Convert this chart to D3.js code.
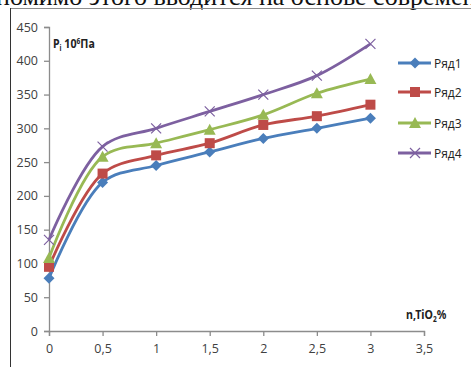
<!DOCTYPE html>
<html>
<head>
<meta charset="utf-8">
<script src="https://cdn.jsdelivr.net/npm/d3@7"></script>
<style>
  body { margin: 0; background: #fff; }
  text { font-family: "Noto Sans", "Open Sans", sans-serif; }
</style>
</head>
<body>
<script>
var xValues = [0, 0.5, 1, 1.5, 2, 2.5, 3];
var ryad1 = [78, 220, 245, 265, 285, 300, 315];
var ryad2 = [95, 233, 260, 278, 305, 318, 335];
var ryad3 = [108, 258, 278, 298, 320, 352, 373];
var ryad4 = [135, 273, 300, 325, 350, 378, 425];
var seriesNames = ["Ряд1", "Ряд2", "Ряд3", "Ряд4"];
var xTicks = [0, 0.5, 1, 1.5, 2, 2.5, 3, 3.5];
var yTicks = [0, 50, 100, 150, 200, 250, 300, 350, 400, 450];

var width = 471, height = 367;
var colors = ["#4a7ebb", "#be4b48", "#98b954", "#7d60a0"];
var shapes = ["diamond", "square", "triangle", "cross"];

var svg = d3.select("body").append("svg")
    .attr("width", width)
    .attr("height", height);

// cut off line of the page text above the chart
svg.append("text")
    .attr("x", -4)
    .attr("y", 5)
    .style("font-family", "'Liberation Serif', serif")
    .style("font-size", "26px")
    .attr("fill", "#111")
    .text("помимо этого вводится на основе современ");

// frame
svg.append("line").attr("x1", 10).attr("x2", width).attr("y1", 8.5).attr("y2", 8.5)
    .attr("stroke", "#8c8c8c");
svg.append("line").attr("x1", 10.5).attr("x2", 10.5).attr("y1", 8).attr("y2", height)
    .attr("stroke", "#333");

var x = d3.scaleLinear().domain([0, 3.5]).range([49, 424]);
var y = d3.scaleLinear().domain([0, 450]).range([331, 27]);

var fmt = function(d) { return String(d).replace(".", ","); };

var xAxis = svg.append("g")
    .attr("transform", "translate(0," + y(0) + ")")
    .call(d3.axisBottom(x).tickValues(xTicks).tickFormat(fmt).tickSize(5).tickPadding(6));
var yAxis = svg.append("g")
    .attr("transform", "translate(" + x(0) + ",0)")
    .call(d3.axisLeft(y).tickValues(yTicks).tickSize(5).tickPadding(6));

[xAxis, yAxis].forEach(function(a) {
  a.select(".domain").attr("stroke", "#8c8c8c").attr("stroke-width", 1.3);
  a.selectAll(".tick line").attr("stroke", "#8c8c8c").attr("stroke-width", 1.3);
  a.selectAll(".tick text").attr("fill", "#404040").style("font-size", "12.5px")
    .style("font-family", "'Open Sans', sans-serif");
});
xAxis.selectAll(".tick text").attr("dy", "0.9em");

// axis titles
var yt = svg.append("text").attr("x", 53).attr("y", 48)
    .style("font-size", "13px").style("font-weight", "bold").attr("fill", "#222")
    .attr("transform", "translate(53,48) scale(0.82,1) translate(-53,-48)");
yt.append("tspan").text("P");
yt.append("tspan").attr("dy", 3).style("font-size", "8px").text("i");
yt.append("tspan").attr("dy", -3).text(" 10");
yt.append("tspan").attr("dy", -4).style("font-size", "8px").text("6");
yt.append("tspan").attr("dy", 4).text("Па");

var xt = svg.append("text").attr("x", 406).attr("y", 319)
    .style("font-size", "13px").style("font-weight", "bold").attr("fill", "#222")
    .attr("transform", "translate(406,319) scale(0.82,1) translate(-406,-319)");
xt.append("tspan").text("n,TiO");
xt.append("tspan").attr("dy", 3).style("font-size", "8px").text("2");
xt.append("tspan").attr("dy", -3).text("%");

var series = [ryad1, ryad2, ryad3, ryad4].map(function(vals, i) {
  return { name: seriesNames[i], color: colors[i], shape: shapes[i],
           points: vals.map(function(v, j) { return [xValues[j], v]; }) };
});

var line = d3.line()
    .x(function(d) { return x(d[0]); })
    .y(function(d) { return y(d[1]); })
    .curve(d3.curveCatmullRom.alpha(0.5));

function drawMarker(g, shape, color) {
  if (shape == "diamond") {
    g.append("path").attr("d", "M0,-5.5L5.5,0L0,5.5L-5.5,0Z").attr("fill", color);
  } else if (shape == "square") {
    g.append("rect").attr("x", -5).attr("y", -5).attr("width", 10).attr("height", 10).attr("fill", color);
  } else if (shape == "triangle") {
    g.append("path").attr("d", "M0,-6L6,5L-6,5Z").attr("fill", color);
  } else {
    g.append("path").attr("d", "M-5,-5L5,5M-5,5L5,-5").attr("stroke", color)
      .attr("stroke-width", 1.2).attr("fill", "none");
  }
}

series.forEach(function(s) {
  svg.append("path")
      .datum(s.points)
      .attr("d", line)
      .attr("fill", "none")
      .attr("stroke", s.color)
      .attr("stroke-width", 2.8);
  s.points.forEach(function(p) {
    var g = svg.append("g").attr("transform", "translate(" + x(p[0]) + "," + y(p[1]) + ")");
    drawMarker(g, s.shape, s.color);
  });
});

// legend
var legendY = [63, 92, 123, 153];
series.forEach(function(s, i) {
  var g = svg.append("g").attr("transform", "translate(0," + legendY[i] + ")");
  g.append("line").attr("x1", 398).attr("x2", 431).attr("stroke", s.color).attr("stroke-width", 2.8);
  var m = g.append("g").attr("transform", "translate(415,0)");
  drawMarker(m, s.shape, s.color);
  g.append("text").attr("x", 434).attr("y", 4.5)
      .style("font-size", "12px").style("font-family", "'Open Sans', sans-serif")
      .attr("fill", "#222").text(s.name);
});
</script>
</body>
</html>
